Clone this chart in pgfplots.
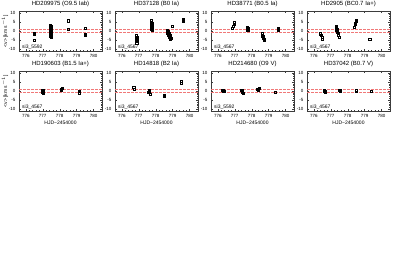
\documentclass[border=0pt]{standalone}
\usepackage{fontspec}
\setmainfont{Liberation Sans}
\usepackage{pgfplots}
\pgfplotsset{compat=1.18}
\definecolor{dashred}{RGB}{240,120,120}
\definecolor{frame}{RGB}{60,60,60}
\pgfplotsset{panel/.style={
  scale only axis, width=83pt, height=40pt, anchor=south west,
  xmin=775.6, xmax=780.5, ymin=-11, ymax=11,
  xtick={776,777,778,779,780}, ytick={-10,-5,0,5,10},
  minor x tick num=4, minor y tick num=4,
  tick align=inside, xtick pos=both, ytick pos=both,
  xticklabel pos=lower, yticklabel pos=left,
  major tick length=2.2pt, minor tick length=1.1pt,
  axis line style={line width=0.4pt, frame},
  every tick/.style={frame, line width=0.3pt},
  tick label style={font=\fontsize{4.5}{5}\selectfont},
  xticklabel style={/pgf/number format/.cd,set thousands separator={}},
  /pgf/number format/assume math mode=true,
  title style={font=\fontsize{6}{7}\selectfont, yshift=-5.5pt},
  label style={font=\fontsize{5}{6}\selectfont},
  xlabel style={yshift=4pt},
  ylabel style={yshift=-6pt},
}}
\newcommand{\reflines}{%
  \addplot[dashred, line width=0.8pt, dash pattern=on 2.5pt off 1.5pt] coordinates {(775.6,0.8) (780.5,0.8)};
  \addplot[dashred, line width=0.8pt, dash pattern=on 2.5pt off 1.5pt] coordinates {(775.6,-0.8) (780.5,-0.8)};}
\newcommand{\lab}[1]{\node[anchor=south west, inner sep=0.5pt, font=\fontsize{5}{6}\selectfont] at (rel axis cs:0.03,0.02) {#1};}
\tikzset{pts/.style={only marks, mark=square, mark size=1.05pt, black, mark options={line width=0.35pt}}}
\begin{document}
\begin{tikzpicture}
\path[use as bounding box] (0,0) rectangle (396pt,273pt);
% row 1
\begin{axis}[panel, at={(19pt,222pt)}, title={HD209975 (O9.5 Iab)}, ylabel={<v> [km s$^{-1}$]}]
\reflines
\addplot[pts] coordinates {(776.5,-1.2)(776.5,-1.7)(776.5,-5)
(777.45,3.2)(777.47,2.6)(777.5,2.1)(777.45,1.6)(777.5,1.1)(777.47,0.6)(777.5,0.1)(777.45,-0.4)(777.5,-0.9)(777.47,-1.5)(777.5,-2.1)(777.45,-2.8)(777.5,-3.6)
(778.5,5.7)(778.5,1.0)
(779.5,1.4)(779.5,-1.9)(779.5,-2.5)};
\lab{si3\_5592}
\end{axis}
\begin{axis}[panel, at={(115pt,222pt)}, title={HD37128 (B0 Ia)}]
\reflines
\addplot[pts] coordinates {(776.85,-2.3)(776.88,-3.2)(776.85,-4.1)(776.9,-5.0)(776.85,-5.8)(776.88,-6.7)
(777.75,6.0)(777.75,5.0)(777.77,4.2)(777.75,3.6)(777.75,3.0)(777.77,2.4)(777.75,1.8)(777.75,1.2)(777.77,0.6)
(778.7,0.3)(778.75,-0.3)(778.7,-0.9)(778.8,-1.5)(778.75,-2.0)(778.85,-2.6)(778.8,-3.3)(778.9,-4.0)(778.85,-4.6)(778.95,2.5)
(779.6,6.4)(779.6,5.8)(779.6,5.3)};
\lab{si3\_4567}
\end{axis}
\begin{axis}[panel, at={(211pt,222pt)}, title={HD38771 (B0.5 Ia)}]
\reflines
\addplot[pts] coordinates {(776.85,1.6)(776.9,2.6)(776.95,3.7)(776.95,4.6)
(777.75,0.3)(777.75,0.8)(777.75,1.3)(777.75,1.8)(777.75,2.2)(777.78,0.6)(777.78,1.6)
(778.6,-1.5)(778.62,-2.2)(778.65,-2.8)(778.67,-3.4)(778.7,-4.0)(778.72,-4.6)(778.75,-5.1)
(779.55,0.3)(779.55,0.8)(779.55,1.3)};
\lab{si3\_4567}
\end{axis}
\begin{axis}[panel, at={(307pt,222pt)}, title={HD2905 (BC0.7 Ia+)}]
\reflines
\addplot[pts] coordinates {(776.4,-1.5)(776.45,-2.5)(776.5,-3.2)(776.5,-4.6)
(777.3,2.6)(777.32,1.8)(777.35,1.2)(777.35,0.5)(777.38,-0.1)(777.4,-0.7)(777.42,-1.4)(777.45,-2.5)(777.48,-3.6)
(778.4,2.0)(778.42,3.6)(778.45,4.3)(778.48,5.2)(778.5,5.9)
(779.3,-4.5)};
\lab{si3\_4567}
\end{axis}
% row 2
\begin{axis}[panel, at={(19pt,162pt)}, title={HD190603 (B1.5 Ia+)}, ylabel={<v> [km s$^{-1}$]}, xlabel={HJD−2454000}]
\reflines
\addplot[pts] coordinates {(777.0,0.3)(777.0,-0.3)(777.02,-0.9)(776.98,-0.5)(777.03,0)
(778.1,0.6)(778.1,1.2)(778.13,1.7)(778.08,0.9)
(779.15,-0.2)(779.15,-0.9)};
\lab{si3\_4567}
\end{axis}
\begin{axis}[panel, at={(115pt,162pt)}, title={HD14818 (B2 Ia)}, xlabel={HJD−2454000}]
\reflines
\addplot[pts] coordinates {(776.7,2.3)(776.72,1.0)
(777.6,-0.2)(777.62,0.2)(777.58,-0.5)(777.65,-1.8)
(778.5,-2.8)(778.52,-2.5)(778.48,-3.0)
(779.5,5.2)(779.5,4.2)};
\lab{si3\_4567}
\end{axis}
\begin{axis}[panel, at={(211pt,162pt)}, title={HD214680 (O9 V)}, xlabel={HJD−2454000}]
\reflines
\addplot[pts] coordinates {(776.25,0.4)(776.3,-0.2)(776.35,0.0)(776.3,0.6)
(777.4,0.6)(777.42,0.0)(777.45,-0.5)(777.48,-1.0)(777.44,0.3)
(778.35,1.2)(778.4,0.6)(778.42,1.5)(778.38,0.9)
(779.4,-0.6)};
\lab{si3\_5592}
\end{axis}
\begin{axis}[panel, at={(307pt,162pt)}, title={HD37042 (B0.7 V)}, xlabel={HJD−2454000}]
\reflines
\addplot[pts] coordinates {(776.62,0.2)(776.65,-0.3)(776.67,-0.6)(776.64,0.0)
(777.55,0.5)(777.57,0.0)(777.53,0.3)(777.55,0.7)
(778.5,0.5)(778.52,0.2)(778.48,0.6)
(779.4,-0.3)};
\lab{si3\_4567}
\end{axis}
\end{tikzpicture}
\end{document}
